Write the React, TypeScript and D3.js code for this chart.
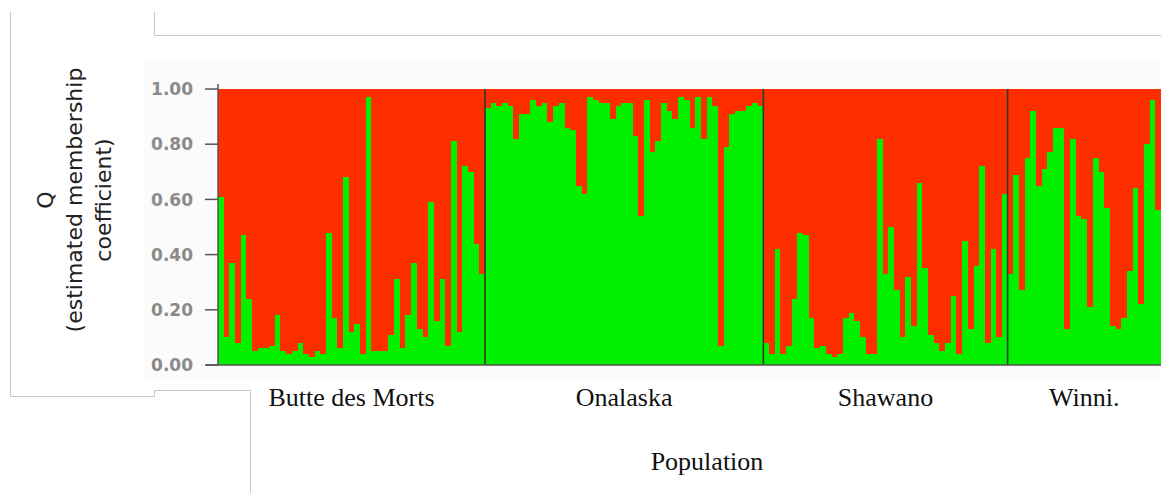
import React from "react";
import * as d3 from "d3";

// ---- data ----
const populations = ["Butte des Morts", "Onalaska", "Shawano", "Winni."];
// estimated membership coefficient for cluster 2 (green) per individual; red = 1 - green
const butteDesMorts = [0.61, 0.10, 0.37, 0.08, 0.47, 0.24, 0.05, 0.06, 0.06, 0.07, 0.18, 0.05, 0.04, 0.05, 0.08, 0.04, 0.03, 0.05, 0.04, 0.48, 0.17, 0.06, 0.68, 0.12, 0.15, 0.04, 0.97, 0.05, 0.05, 0.05, 0.11, 0.31, 0.06, 0.18, 0.37, 0.13, 0.10, 0.59, 0.16, 0.31, 0.07, 0.81, 0.12, 0.72, 0.70, 0.44, 0.33];
const onalaska = [0.93, 0.95, 0.94, 0.95, 0.94, 0.82, 0.91, 0.91, 0.96, 0.94, 0.95, 0.88, 0.94, 0.95, 0.86, 0.85, 0.65, 0.62, 0.97, 0.96, 0.95, 0.95, 0.89, 0.94, 0.95, 0.95, 0.83, 0.54, 0.96, 0.77, 0.81, 0.95, 0.92, 0.89, 0.97, 0.96, 0.86, 0.97, 0.82, 0.97, 0.94, 0.07, 0.79, 0.91, 0.92, 0.92, 0.94, 0.95, 0.94];
const shawano = [0.08, 0.04, 0.42, 0.04, 0.07, 0.24, 0.48, 0.47, 0.17, 0.06, 0.07, 0.04, 0.03, 0.04, 0.17, 0.19, 0.16, 0.10, 0.04, 0.04, 0.82, 0.33, 0.50, 0.27, 0.10, 0.32, 0.14, 0.66, 0.35, 0.11, 0.08, 0.05, 0.08, 0.25, 0.04, 0.45, 0.13, 0.36, 0.72, 0.08, 0.42, 0.10, 0.62];
const winni = [0.33, 0.69, 0.27, 0.75, 0.92, 0.65, 0.71, 0.77, 0.86, 0.86, 0.13, 0.82, 0.54, 0.53, 0.21, 0.75, 0.70, 0.57, 0.14, 0.13, 0.17, 0.34, 0.64, 0.22, 0.80, 0.96, 0.56];
const popValues = [butteDesMorts, onalaska, shawano, winni];
const yTicks = [0, 0.2, 0.4, 0.6, 0.8, 1.0];
const yTitleLines = ["Q", "(estimated membership", "coefficient)"];
const xTitle = "Population";

const W = 1161;
const H = 493;
const RED = "#ff2e00";
const GREEN = "#00f000";

type Ind = { id: string; pop: number; g: number };

export default function App() {
  const individuals: Ind[] = [];
  popValues.forEach((arr, p) =>
    arr.forEach((g, i) => individuals.push({ id: `${p}-${i}`, pop: p, g }))
  );

  const plotL = 218;
  const plotR = 1161;
  const plotT = 89;
  const plotB = 365;

  const x = d3
    .scaleBand<string>()
    .domain(individuals.map((d) => d.id))
    .range([plotL, plotR])
    .padding(0);
  const y = d3.scaleLinear().domain([0, 1]).range([plotB, plotT]);
  const bw = x.bandwidth();
  const fmt = d3.format(".2f");

  const popInfo = popValues.map((arr, p) => {
    const first = x(`${p}-0`)!;
    const last = x(`${p}-${arr.length - 1}`)! + bw;
    return { start: first, end: last, center: (first + last) / 2 };
  });

  const frame = "#c6c6c6";

  return (
    <svg
      width={W}
      height={H}
      style={{ position: "absolute", left: 0, top: 0, background: "#fff" }}
    >
      {/* outer frame lines */}
      <g stroke={frame} strokeWidth={1} fill="none">
        <polyline points="10.5,12 10.5,396.5 154.5,396.5 154.5,390.5 250.5,390.5 250.5,493" />
        <polyline points="154.5,12 154.5,35.5 1161,35.5" />
      </g>

      {/* faint panel background */}
      <rect x={143} y={58} width={W - 143} height={320} fill="#fbfbfb" />

      {/* bars */}
      <g shapeRendering="crispEdges">
        {individuals.map((d) => {
          const bx = x(d.id)!;
          return (
            <g key={d.id}>
              <rect x={bx} y={y(1)} width={bw + 0.6} height={y(d.g) - y(1)} fill={RED} />
              <rect x={bx} y={y(d.g)} width={bw + 0.6} height={y(0) - y(d.g)} fill={GREEN} />
            </g>
          );
        })}
      </g>

      {/* population separators */}
      <g stroke="#2a3a2a" strokeWidth={1.6}>
        {popInfo.slice(1).map((p, i) => (
          <line key={i} x1={p.start} x2={p.start} y1={plotT} y2={plotB} />
        ))}
      </g>

      {/* y axis */}
      <g>
        <line x1={plotL} x2={plotL} y1={plotT - 5} y2={plotB} stroke="#555" strokeWidth={1.5} />
        <line x1={206} x2={plotR} y1={plotB} y2={plotB} stroke="#555" strokeWidth={1.5} />
        {yTicks.map((t) => (
          <g key={t}>
            <line x1={205} x2={plotL} y1={y(t)} y2={y(t)} stroke="#555" strokeWidth={1.5} />
            <text
              x={193}
              y={y(t)}
              dy="0.36em"
              textAnchor="end"
              fontFamily="DejaVu Sans"
              fontWeight="bold"
              fontSize={17}
              fill="#8a8a8a"
            >
              {fmt(t)}
            </text>
          </g>
        ))}
      </g>

      {/* y title */}
      <g transform={`translate(0, 200) rotate(-90)`}>
        {yTitleLines.map((s, i) => (
          <text
            key={i}
            x={0}
            y={45 + i * 29}
            textAnchor="middle"
            dominantBaseline="central"
            fontFamily="DejaVu Sans"
            fontSize={22}
            fill="#222"
          >
            {s}
          </text>
        ))}
      </g>

      {/* population labels */}
      {populations.map((name, p) => (
        <text
          key={name}
          x={popInfo[p].center}
          y={406}
          textAnchor="middle"
          fontFamily="Liberation Serif"
          fontSize={26}
          fill="#111"
        >
          {name}
        </text>
      ))}
      <text
        x={707}
        y={470}
        textAnchor="middle"
        fontFamily="Liberation Serif"
        fontSize={26}
        fill="#111"
      >
        {xTitle}
      </text>
    </svg>
  );
}
